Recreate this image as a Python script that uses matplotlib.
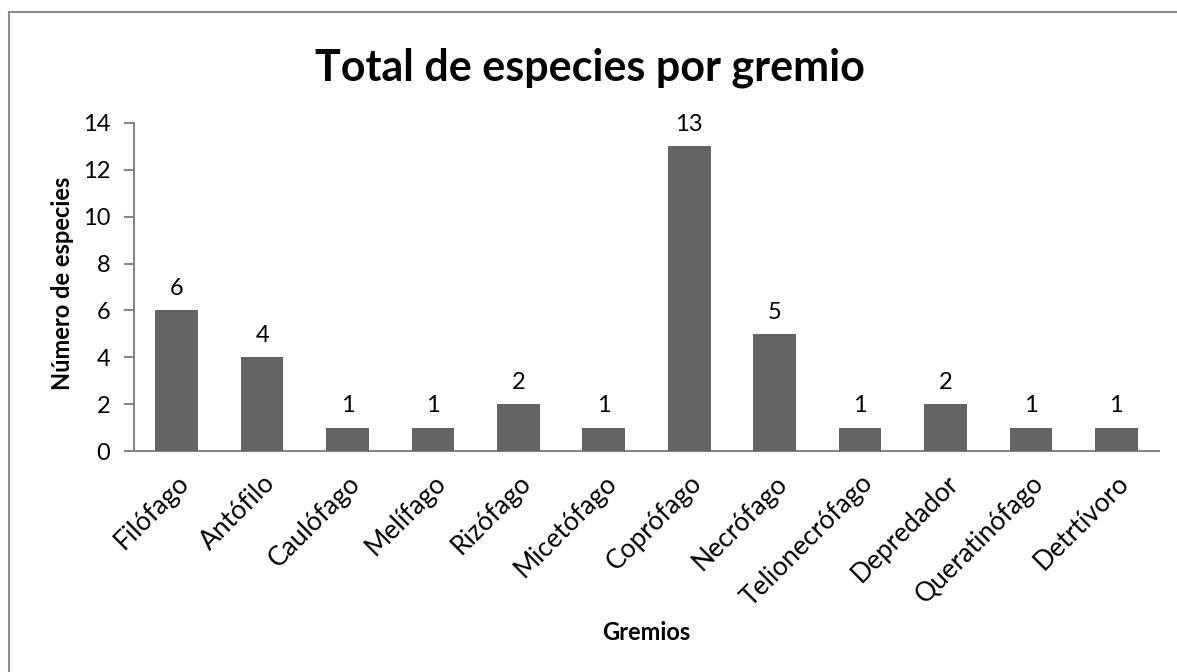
import matplotlib.pyplot as plt
from matplotlib.patches import Rectangle

# Guild data
gremios = ['Filófago', 'Antófilo', 'Caulófago', 'Melífago', 'Rizófago', 'Micetófago',
           'Coprófago', 'Necrófago', 'Telionecrófago', 'Depredador', 'Queratinófago',
           'Detrtívoro']
especies = [6, 4, 1, 1, 2, 1, 13, 5, 1, 2, 1, 1]
y_ticks = [0, 2, 4, 6, 8, 10, 12, 14]

plt.rcParams['font.family'] = ['Lato', 'DejaVu Sans']

W, H = 1177, 672
fig = plt.figure(figsize=(W / 100, H / 100), dpi=100, facecolor='white')

# outer chart border (only top and left edges are visible in the crop)
fig.patches.append(Rectangle((8.5 / W, -0.1), 1.2, 1 - 11.5 / H + 0.1,
                             transform=fig.transFigure, fill=False,
                             edgecolor='#8c8c8c', linewidth=1.5))

ax = fig.add_axes([134 / W, 1 - 451 / H, (1159 - 134) / W, (451 - 123) / H])
x = list(range(len(gremios)))
ax.bar(x, especies, width=0.5, color='#646464', zorder=3)

for xi, v in zip(x, especies):
    ax.annotate(str(v), (xi, v), xytext=(0, 8), textcoords='offset points',
                ha='center', va='bottom', fontsize=17, color='black')

ax.set_xlim(-0.5, len(gremios) - 0.5)
ax.set_ylim(0, 14)
ax.set_yticks(y_ticks)
ax.set_xticks(x)
ax.set_xticklabels(gremios, rotation=45, ha='right', rotation_mode='anchor')

for s in ['top', 'right']:
    ax.spines[s].set_visible(False)
for s in ['left', 'bottom']:
    ax.spines[s].set_color('#868686')
    ax.spines[s].set_linewidth(1.5)
ax.tick_params(axis='y', length=7, width=1.5, color='#868686', labelsize=17, pad=10)
ax.tick_params(axis='x', length=0, labelsize=19, pad=14)

fig.text(63 / W, 1 - 283 / H, 'Número de especies', ha='center', va='center',
         rotation=90, fontsize=17, fontweight='bold')
fig.text(646 / W, 1 - 632 / H, 'Gremios', ha='center', va='center',
         fontsize=17, fontweight='bold')
fig.text(590 / W, 1 - 68 / H, 'Total de especies por gremio', ha='center', va='center',
         fontsize=31, fontweight='bold')

fig.savefig('out.png', dpi=100, facecolor='white')
